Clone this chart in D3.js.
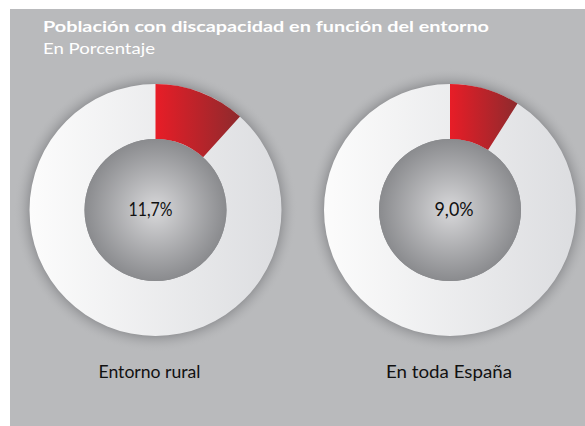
<!DOCTYPE html>
<html>
<head>
<meta charset="utf-8">
<script src="https://cdn.jsdelivr.net/npm/d3@7"></script>
<style>
  html, body { margin: 0; padding: 0; background: #fff; }
  svg { display: block; }
</style>
</head>
<body>
<svg width="585" height="426"></svg>
<script>
var categories = ["Entorno rural", "En toda España"];
var values = [11.7, 9.0];
var valueLabels = ["11,7%", "9,0%"];
var title = "Población con discapacidad en función del entorno";
var subtitle = "En Porcentaje";

var svg = d3.select("svg"),
    width = +svg.attr("width"),
    height = +svg.attr("height");

var defs = svg.append("defs");

// ring: near white on the left, light grey on the right
var ringGrad = defs.append("linearGradient").attr("id", "ring")
    .attr("x1", "0%").attr("x2", "100%").attr("y1", "0%").attr("y2", "0%");
ringGrad.append("stop").attr("offset", "0%").attr("stop-color", "#fcfcfc");
ringGrad.append("stop").attr("offset", "100%").attr("stop-color", "#dcdde0");

var redGrad = defs.append("linearGradient").attr("id", "red")
    .attr("x1", "0%").attr("x2", "100%").attr("y1", "0%").attr("y2", "0%");
redGrad.append("stop").attr("offset", "0%").attr("stop-color", "#e81d27");
redGrad.append("stop").attr("offset", "100%").attr("stop-color", "#8e2a2d");

var holeGrad = defs.append("radialGradient").attr("id", "hole");
holeGrad.append("stop").attr("offset", "0%").attr("stop-color", "#d8d8da");
holeGrad.append("stop").attr("offset", "100%").attr("stop-color", "#8a8b8e");

// soft shadow just outside the ring
var glowGrad = defs.append("radialGradient").attr("id", "glow");
glowGrad.append("stop").attr("offset", "0%").attr("stop-color", "#7d7e81").attr("stop-opacity", 0.8);
glowGrad.append("stop").attr("offset", "88%").attr("stop-color", "#8a8b8e").attr("stop-opacity", 0.8);
glowGrad.append("stop").attr("offset", "100%").attr("stop-color", "#b9babc").attr("stop-opacity", 0);

// panel
svg.append("rect")
    .attr("x", 10).attr("y", 9)
    .attr("width", width - 10).attr("height", height - 9)
    .attr("fill", "#b9babc");

svg.append("text")
    .attr("x", 43).attr("y", 32)
    .attr("fill", "#ffffff")
    .attr("font-family", "Lato, sans-serif")
    .attr("font-weight", "bold")
    .attr("font-size", "16px")
    .attr("textLength", 446)
    .attr("lengthAdjust", "spacingAndGlyphs")
    .text(title);

svg.append("text")
    .attr("x", 43).attr("y", 54)
    .attr("fill", "#ffffff")
    .attr("font-family", "Lato, sans-serif")
    .attr("font-size", "16px")
    .attr("textLength", 112)
    .attr("lengthAdjust", "spacingAndGlyphs")
    .text(subtitle);

var x = d3.scalePoint()
    .domain(categories)
    .range([155.5, 450])
    .padding(0);

var cy = 210,
    outerR = 126,
    innerR = 71;

var pie = d3.pie().sort(null).value(function(d) { return d; });
var arc = d3.arc().innerRadius(innerR).outerRadius(outerR);

var donuts = svg.selectAll("g.donut")
    .data(categories)
    .enter().append("g")
    .attr("class", "donut")
    .attr("transform", function(d) { return "translate(" + x(d) + "," + cy + ")"; });

donuts.append("circle")
    .attr("r", outerR + 16)
    .attr("fill", "url(#glow)");

donuts.each(function(d, i) {
  var g = d3.select(this);
  var slices = pie([values[i], 100 - values[i]]);
  // full ring first so its gradient spans the whole ring, then the red slice on top
  g.append("path")
      .attr("d", d3.arc().innerRadius(innerR).outerRadius(outerR)({startAngle: 0, endAngle: 2 * Math.PI}))
      .attr("fill", "url(#ring)");
  g.append("path")
      .datum(slices[0])
      .attr("d", arc)
      .attr("fill", "url(#red)");
});

donuts.append("circle")
    .attr("r", innerR)
    .attr("fill", "url(#hole)");

donuts.append("text")
    .attr("x", function(d, i) { return i === 0 ? -5 : 4; })
    .attr("y", 6)
    .attr("text-anchor", "middle")
    .attr("fill", "#111")
    .attr("font-family", "Lato, sans-serif")
    .attr("font-size", "19px")
    .attr("textLength", function(d, i) { return i === 0 ? 44 : 39; })
    .attr("lengthAdjust", "spacingAndGlyphs")
    .text(function(d, i) { return valueLabels[i]; });

svg.selectAll("text.cat")
    .data(categories)
    .enter().append("text")
    .attr("class", "cat")
    .attr("x", function(d, i) { return x(d) - (i === 0 ? 6 : 1); })
    .attr("y", 378)
    .attr("text-anchor", "middle")
    .attr("fill", "#111")
    .attr("font-family", "Lato, sans-serif")
    .attr("font-size", "18px")
    .attr("textLength", function(d, i) { return i === 0 ? 102 : 126; })
    .attr("lengthAdjust", "spacingAndGlyphs")
    .text(function(d) { return d; });
</script>
</body>
</html>
